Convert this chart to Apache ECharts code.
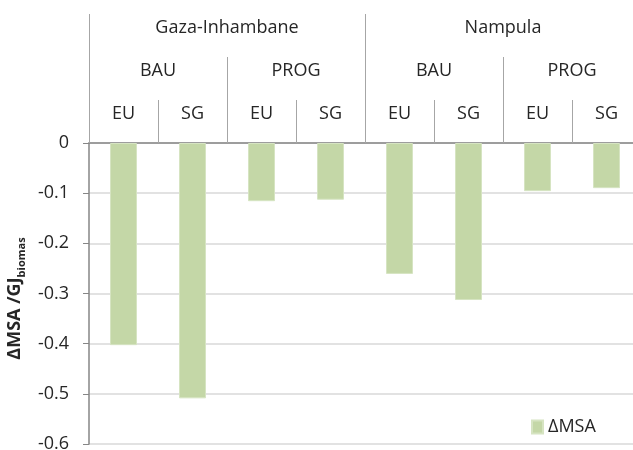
<!DOCTYPE html>
<html>
<head>
<meta charset="utf-8">
<script src="https://cdn.jsdelivr.net/npm/echarts@6/dist/echarts.min.js"></script>
<style>
  html, body { margin: 0; padding: 0; background: #fff; }
  #chart { width: 633px; height: 450px; }
</style>
</head>
<body>
<div id="chart"></div>
<script>
var regions = ['Gaza-Inhambane', 'Nampula'];
var scenarios = ['BAU', 'PROG', 'BAU', 'PROG'];
var pathways = ['EU', 'SG', 'EU', 'SG', 'EU', 'SG', 'EU', 'SG'];
var msaValues = [-0.403, -0.509, -0.116, -0.113, -0.261, -0.313, -0.096, -0.090];
var seriesName = 'ΔMSA';

var font = '"Open Sans", "Liberation Sans", sans-serif';
var sepColor = '#a6a6a6';
var textColor = '#262626';

function headerAxis(data, offset) {
  return {
    type: 'category',
    position: 'top',
    offset: offset,
    data: data,
    axisLine: { show: false },
    axisTick: {
      show: true,
      length: 43,
      interval: 0,
      lineStyle: { color: sepColor, width: 1 }
    },
    axisLabel: {
      interval: 0,
      margin: 29,
      verticalAlign: 'middle',
      color: textColor,
      fontSize: 18,
      fontFamily: font
    },
    splitLine: { show: false }
  };
}

var myChart = echarts.init(document.getElementById('chart'));

var bottomAxis = headerAxis(pathways, 0);
bottomAxis.axisLine = { show: true, lineStyle: { color: '#868686', width: 1.5 } };

var option = {
  animation: false,
  backgroundColor: '#fff',
  grid: {
    left: 89,
    top: 143,
    width: 552,
    height: 301,
    containLabel: false,
    outerBoundsMode: 'none'
  },
  legend: {
    left: 526,
    top: 413,
    icon: 'rect',
    itemWidth: 11,
    itemHeight: 13,
    itemGap: 6,
    textStyle: { fontSize: 18, color: textColor, fontFamily: font },
    data: [seriesName]
  },
  xAxis: [
    bottomAxis,
    headerAxis(scenarios, 43),
    headerAxis(regions, 86)
  ],
  yAxis: {
    type: 'value',
    min: -0.6,
    max: 0,
    interval: 0.1,
    name: '{a|ΔMSA /GJ}{b|biomas}',
    nameLocation: 'middle',
    nameGap: 57,
    nameTextStyle: {
      padding: [0, 0, 0, -10],
      rich: {
        a: { fontSize: 18, fontWeight: 'bold', color: textColor, fontFamily: font, lineHeight: 24 },
        b: { fontSize: 11, fontWeight: 'bold', color: textColor, fontFamily: font, verticalAlign: 'bottom', lineHeight: 11 }
      }
    },
    axisLine: { show: true, lineStyle: { color: '#868686', width: 1.5 } },
    axisTick: { show: true, length: 6, lineStyle: { color: '#868686' } },
    axisLabel: {
      margin: 20,
      fontSize: 18,
      color: textColor,
      fontFamily: font,
      formatter: function (v) {
        return v === 0 ? '0' : v.toFixed(1);
      }
    },
    splitLine: { show: true, lineStyle: { color: '#d9d9d9', width: 1.5 } }
  },
  series: [
    {
      name: seriesName,
      type: 'bar',
      xAxisIndex: 0,
      barWidth: 27,
      itemStyle: { color: '#c4d7a7', borderColor: '#d6e4c2', borderWidth: 1 },
      data: msaValues
    }
  ]
};
myChart.setOption(option);
</script>
</body>
</html>
